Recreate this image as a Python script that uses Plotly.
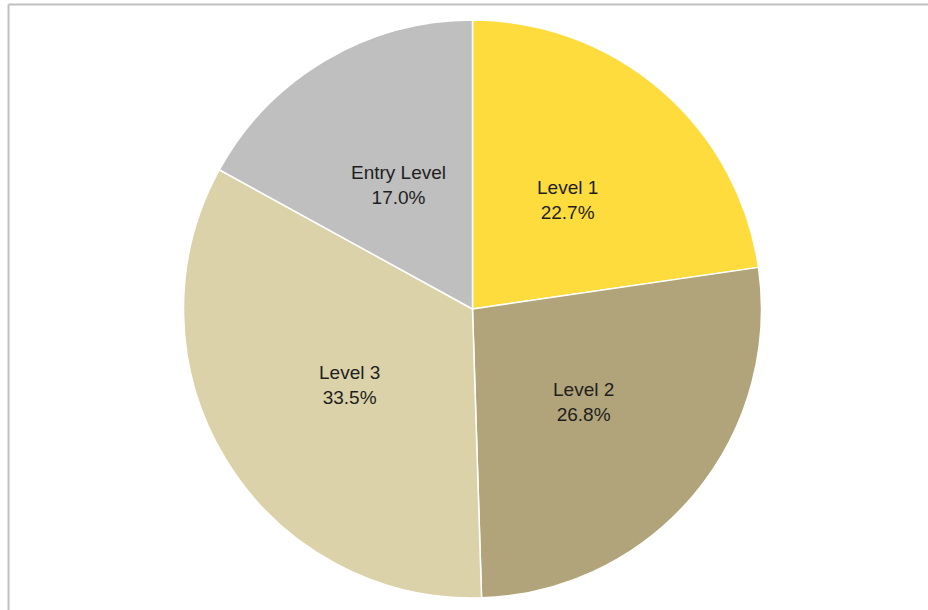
import math
import plotly.graph_objects as go

categories = ["Level 1", "Level 2", "Level 3", "Entry Level"]
shares = [22.7, 26.8, 33.5, 17.0]
colors = ["#FEDC3D", "#B2A47A", "#DBD2AA", "#BFBFBF"]

W, H = 928, 610
ML, MR, MT, MB = 17, 0, 20, 12
pw, ph = W - ML - MR, H - MT - MB
R = min(pw, ph) / 2.0

fig = go.Figure(go.Pie(
    labels=categories,
    values=shares,
    sort=False,
    direction="clockwise",
    rotation=0,
    marker=dict(colors=colors, line=dict(color="white", width=1.5)),
    textinfo="none",
    hoverinfo="label+percent",
    showlegend=False,
))

total = sum(shares)
cum = 0.0
annotations = []
for cat, v in zip(categories, shares):
    mid = (cum + v / 2) / total * 2 * math.pi
    cum += v
    dx = 0.5 * R * math.sin(mid)
    dy = 0.5 * R * math.cos(mid)
    annotations.append(dict(
        x=0.5 + dx / pw, y=0.5 + dy / ph, xref="paper", yref="paper",
        text=f"{cat}<br>{v / total * 100:.1f}%", showarrow=False,
        xanchor="center", yanchor="middle", align="center",
        font=dict(family="Liberation Sans, Arial, sans-serif", size=19, color="#1E1E1E"),
    ))

bx = (8.5 - ML) / pw
by = 1 + (MT - 4.5) / ph
fig.update_layout(
    width=W, height=H,
    margin=dict(l=ML, r=MR, t=MT, b=MB),
    paper_bgcolor="white", plot_bgcolor="white",
    annotations=annotations,
    shapes=[
        dict(type="line", xref="paper", yref="paper",
             x0=bx, x1=(W + 20 - ML) / pw, y0=by, y1=by,
             line=dict(color="#C0C0C0", width=2)),
        dict(type="line", xref="paper", yref="paper",
             x0=bx, x1=bx, y0=by, y1=-(H + 20 - MT - ph) / ph,
             line=dict(color="#C0C0C0", width=2)),
    ],
)

fig.write_html("out.html")
